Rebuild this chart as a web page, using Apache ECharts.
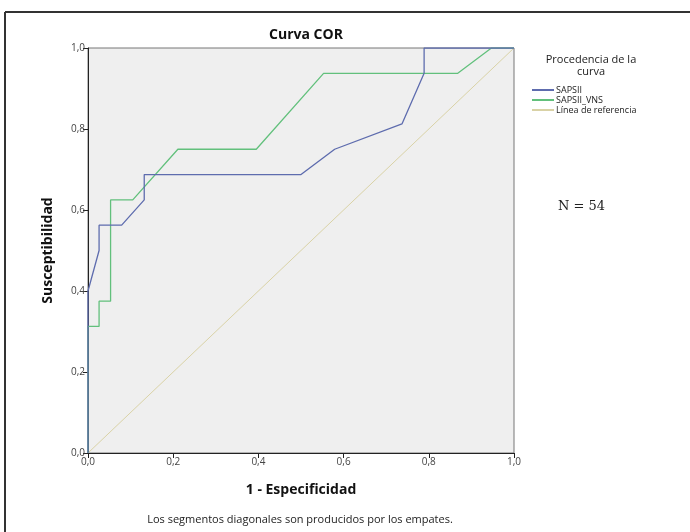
<!DOCTYPE html>
<html><head><meta charset="utf-8">
<script src="https://cdn.jsdelivr.net/npm/echarts@6/dist/echarts.min.js"></script>
<style>html,body{margin:0;padding:0;background:#fff}#c{width:690px;height:532px}</style>
</head><body><div id="c"></div>
<script>
// Data
var seriesNames = ['SAPSII', 'SAPSII_VNS', 'Línea de referencia'];
var sapsiiFpr = [0, 0, 0.026, 0.026, 0.079, 0.132, 0.132, 0.5, 0.579, 0.737, 0.789, 0.789, 1];
var sapsiiTpr = [0, 0.40, 0.50, 0.5625, 0.5625, 0.625, 0.6875, 0.6875, 0.75, 0.8125, 0.9375, 1, 1];
var vnsFpr = [0, 0, 0.026, 0.026, 0.053, 0.053, 0.105, 0.211, 0.395, 0.553, 0.868, 0.947, 1];
var vnsTpr = [0, 0.3125, 0.3125, 0.375, 0.375, 0.625, 0.625, 0.75, 0.75, 0.9375, 0.9375, 1, 1];
var refFpr = [0, 1];
var refTpr = [0, 1];
var xTicks = [0, 0.2, 0.4, 0.6, 0.8, 1.0];
var yTicks = [0, 0.2, 0.4, 0.6, 0.8, 1.0];

function pairs(xs, ys) { return xs.map(function (x, i) { return [x, ys[i]]; }); }
function fmt(v) { return v.toFixed(1).replace('.', ','); }

var chart = echarts.init(document.getElementById('c'), null, {renderer: 'canvas'});
var font = 'Open Sans, DejaVu Sans, sans-serif';
var L = 88, R = 514, T = 48, B = 453;
chart.setOption({
  animation: false,
  backgroundColor: '#ffffff',
  title: {
    text: 'Curva COR', left: 301, top: 23, textAlign: 'center',
    textStyle: {fontFamily: font, fontSize: 14, fontWeight: 'bold', color: '#111'}
  },
  legend: {
    orient: 'vertical', left: 527, top: 80, itemWidth: 22, itemHeight: 2, itemGap: 0,
    icon: 'rect',
    data: seriesNames,
    textStyle: {fontFamily: font, fontSize: 9, color: '#222', lineHeight: 10, padding: [0, 0, 0, -3]}
  },
  grid: {left: L, right: 690 - R, top: T, bottom: 532 - B, show: true,
    backgroundColor: '#efefef', borderColor: '#777', borderWidth: 1},
  xAxis: {
    type: 'value', min: 0, max: 1, interval: 0.2,
    name: '1 - Especificidad', nameLocation: 'middle', nameGap: 30,
    nameTextStyle: {fontFamily: font, fontSize: 14, fontWeight: 'bold', color: '#111'},
    axisLine: {show: true, lineStyle: {color: '#222', width: 1}},
    axisTick: {show: true, length: 5, lineStyle: {color: '#222'}},
    axisLabel: {formatter: fmt, fontFamily: font, fontSize: 10, color: '#444', margin: 4},
    splitLine: {show: false}
  },
  yAxis: {
    type: 'value', min: 0, max: 1, interval: 0.2,
    name: 'Susceptibilidad', nameLocation: 'middle', nameGap: 33, nameRotate: 90,
    nameTextStyle: {fontFamily: font, fontSize: 14, fontWeight: 'bold', color: '#111'},
    axisLine: {show: true, lineStyle: {color: '#222', width: 1}},
    axisTick: {show: true, length: 5, lineStyle: {color: '#222'}},
    axisLabel: {formatter: fmt, fontFamily: font, fontSize: 10, color: '#444', margin: 3},
    splitLine: {show: false}
  },
  series: [
    {name: seriesNames[2], type: 'line', data: pairs(refFpr, refTpr), showSymbol: false,
      lineStyle: {color: '#d9d2a6', width: 1}, itemStyle: {color: '#d9d2a6'}, z: 1},
    {name: seriesNames[1], type: 'line', data: pairs(vnsFpr, vnsTpr), showSymbol: false,
      lineStyle: {color: '#62c07c', width: 1.3}, itemStyle: {color: '#62c07c'}, z: 2},
    {name: seriesNames[0], type: 'line', data: pairs(sapsiiFpr, sapsiiTpr), showSymbol: false,
      lineStyle: {color: '#5e6cae', width: 1.3}, itemStyle: {color: '#5e6cae'}, z: 3}
  ],
  graphic: [
    {type: 'line', shape: {x1: 5, y1: 12, x2: 690, y2: 12}, style: {stroke: '#333', lineWidth: 2}},
    {type: 'line', shape: {x1: 5, y1: 12, x2: 5, y2: 532}, style: {stroke: '#333', lineWidth: 2}},
    {type: 'text', style: {x: 591, y: 54, text: 'Procedencia de la\ncurva', textAlign: 'center', fontFamily: font, fontSize: 11, fill: '#222', lineHeight: 12}},
    {type: 'text', style: {x: 558, y: 200, text: 'N = 54', fontFamily: 'DejaVu Serif, Liberation Serif, serif', fontSize: 13, fill: '#222'}},
    {type: 'text', style: {x: 300, y: 514, text: 'Los segmentos diagonales son producidos por los empates.', fontFamily: font, fontSize: 11, fill: '#222', textAlign: 'center'}}
  ]
});
</script></body></html>
